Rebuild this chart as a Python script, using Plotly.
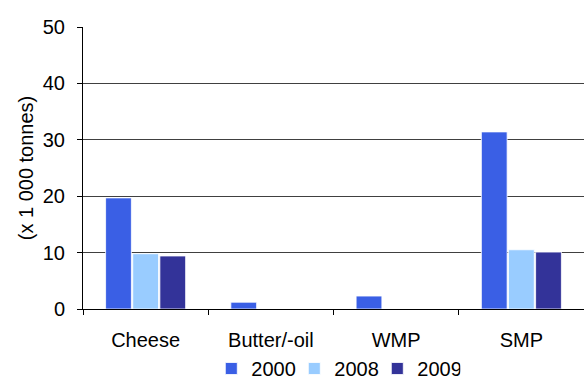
import plotly.graph_objects as go

# Dairy products, volumes in thousand tonnes
categories = ["Cheese", "Butter/-oil", "WMP", "SMP"]
years = ["2000", "2008", "2009"]
values_2000 = [19.7, 1.2, 2.3, 31.4]
values_2008 = [9.8, 0.0, 0.0, 10.5]
values_2009 = [9.4, 0.0, 0.0, 10.1]
y_ticks = [0, 10, 20, 30, 40, 50]

series = [values_2000, values_2008, values_2009]
colors = ["#3A5FE5", "#99CCFF", "#333399"]

FONT = "Liberation Sans, Arial, sans-serif"

fig = go.Figure()
for name, vals, col in zip(years, series, colors):
    fig.add_trace(go.Bar(
        x=categories, y=vals, name=name,
        marker=dict(color=col, line=dict(color="white", width=0.8)),
    ))

fig.update_layout(
    width=584, height=388, autosize=False,
    margin=dict(l=83, r=0, t=27, b=79, autoexpand=False),
    paper_bgcolor="white", plot_bgcolor="white",
    barmode="group", bargap=0.35, bargroupgap=0.05,
    font=dict(family=FONT, size=20, color="black"),
    showlegend=True,
    legend=dict(
        orientation="h", xref="container", x=0.575, xanchor="center",
        yref="container", y=-0.025, yanchor="bottom",
        font=dict(size=20), itemwidth=30, tracegroupgap=0,
        entrywidth=38, entrywidthmode="pixels",
        bgcolor="rgba(0,0,0,0)",
    ),
)

fig.update_xaxes(
    showline=True, linecolor="black", linewidth=1,
    ticks="outside", ticklen=5, tickcolor="black", tickson="boundaries",
    tickfont=dict(size=20), showgrid=False, ticklabelstandoff=13,
)
fig.update_yaxes(
    range=[0, 50], tickvals=y_ticks,
    showline=True, linecolor="black", linewidth=1,
    ticks="outside", ticklen=5, tickcolor="black",
    showgrid=True, gridcolor="#404040", gridwidth=1,
    zeroline=True, zerolinecolor="black", zerolinewidth=1,
    tickfont=dict(size=20), ticklabelstandoff=8,
    title=dict(text="(x 1 000 tonnes)", font=dict(size=20), standoff=3),
)

fig.write_html("out.html")
